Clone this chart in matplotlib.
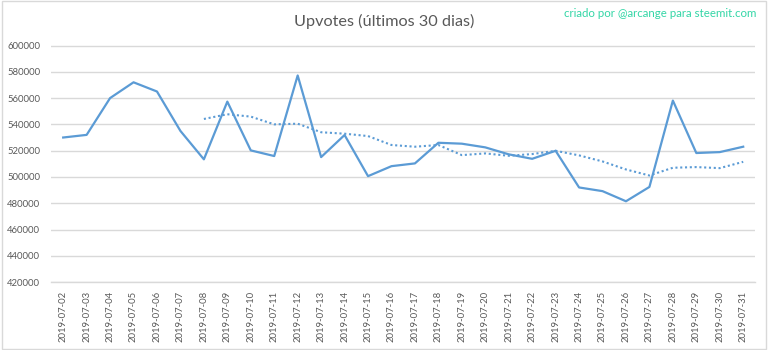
import matplotlib
matplotlib.use('Agg')
import matplotlib.pyplot as plt
from matplotlib.patches import Rectangle

# dates shown on the x axis
dates = ['2019-07-%02d' % d for d in range(2, 32)]

# daily upvotes (solid line)
upvotes = [530000, 532000, 560000, 572000, 565000, 535000, 513400, 557300,
           520200, 515900, 577200, 515100, 531900, 500600, 508200, 510300,
           526000, 525300, 522500, 517200, 513800, 519900, 492000, 489200,
           481500, 492400, 558100, 518200, 518900, 523000]

# 7 day moving average (dotted line), starts at 2019-07-08
avg_dates = dates[6:]
avg_values = [544100, 547700, 545900, 540000, 540500, 534000, 532900, 531100,
              524300, 523000, 524300, 516600, 517900, 516100, 517400, 519900,
              516400, 511800, 505700, 501100, 507000, 507500, 506700, 511500]

yticks = list(range(420000, 600001, 20000))

plt.rcParams['font.family'] = ['Lato', 'DejaVu Sans']
blue = '#5B9BD5'
gray_text = '#595959'

fig = plt.figure(figsize=(7.68, 3.5), dpi=100)
ax = fig.add_axes([0.067, 0.194, 0.916, 0.676])

x = list(range(len(dates)))
ax.plot(x, upvotes, color=blue, lw=1.6, solid_joinstyle='round')
ax.plot(x[6:], avg_values, color=blue, lw=1.5, linestyle=(0, (1, 1.3)))

ax.set_xlim(-0.5, len(dates) - 0.5)
ax.set_ylim(420000, 600000)
ax.set_yticks(yticks)
ax.set_yticklabels([str(v) for v in yticks])
ax.set_xticks(x)
ax.set_xticklabels(dates, rotation=90)

ax.grid(axis='y', color='#d9d9d9', lw=1)
ax.set_axisbelow(True)
for s in ['top', 'right', 'left']:
    ax.spines[s].set_visible(False)
ax.spines['bottom'].set_color('#d9d9d9')
ax.spines['bottom'].set_linewidth(1)
ax.tick_params(axis='both', length=0, labelsize=6.8, colors=gray_text)
ax.tick_params(axis='y', pad=8)
ax.tick_params(axis='x', pad=6)

fig.text(0.5, 0.94, 'Upvotes (últimos 30 dias)', ha='center', va='center',
         fontsize=11.7, color=gray_text)
fig.text(0.985, 0.962, 'criado por @arcange para steemit.com', ha='right',
         va='center', fontsize=8.3, color='#33D6A6')

# light border round the chart
fig.patches.append(Rectangle((0.002, 0.004), 0.996, 0.992, transform=fig.transFigure,
                             fill=False, edgecolor='#d9d9d9', lw=1))

fig.savefig('out.png', dpi=100)
